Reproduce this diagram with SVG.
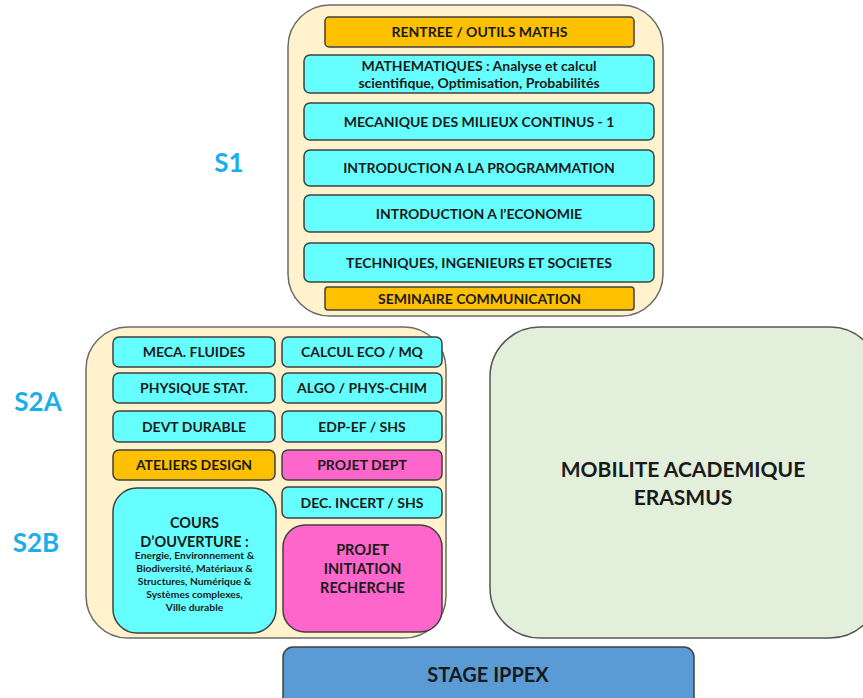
<svg xmlns="http://www.w3.org/2000/svg" width="863" height="698" viewBox="0 0 863 698">
<style>
text{font-family:Lato,"Liberation Sans",sans-serif;font-weight:bold;fill:#1a1a1a;text-anchor:middle}
.t{font-size:14px}
.cont{fill:#FFF2CC;stroke:#6b6b6b;stroke-width:1.5}
.cy{fill:#66FFFF;stroke:#404040;stroke-width:1.5}
.or{fill:#FFC000;stroke:#404040;stroke-width:1.5}
.pk{fill:#FF66CC;stroke:#404040;stroke-width:1.5}
.lbl{font-size:26px;fill:#1CAEEB}
.sm{font-size:10.3px}
</style>
<rect width="863" height="698" fill="#ffffff"/>
<g id="labels">
<text class="lbl" x="229" y="172">S1</text>
<text class="lbl" x="38" y="411">S2A</text>
<text class="lbl" x="36" y="552">S2B</text>
</g>
<g id="s1">
<rect class="cont" x="288" y="5" width="375" height="311" rx="42"/>
</g>
<g id="rentree"><rect class="or" x="325" y="17" width="309" height="30" rx="4"/><text class="t" x="479.5" y="37">RENTREE / OUTILS MATHS</text></g>
<g id="maths"><rect class="cy" x="304" y="55" width="350" height="38" rx="6"/><text class="t" x="479" y="71">MATHEMATIQUES : Analyse et calcul</text><text class="t" x="479" y="88">scientifique, Optimisation, Probabilités</text></g>
<g id="mmc"><rect class="cy" x="304" y="103" width="350" height="37" rx="6"/><text class="t" x="479" y="126.5">MECANIQUE DES MILIEUX CONTINUS - 1</text></g>
<g id="prog"><rect class="cy" x="304" y="150" width="350" height="36" rx="6"/><text class="t" x="479" y="173">INTRODUCTION A LA PROGRAMMATION</text></g>
<g id="eco"><rect class="cy" x="304" y="195" width="350" height="37" rx="6"/><text class="t" x="479" y="218.5">INTRODUCTION A l’ECONOMIE</text></g>
<g id="tis"><rect class="cy" x="304" y="243" width="350" height="39" rx="6"/><text class="t" x="479" y="267.5">TECHNIQUES, INGENIEURS ET SOCIETES</text></g>
<g id="semin"><rect class="or" x="325" y="287" width="309" height="23" rx="3"/><text class="t" x="479.5" y="303.5">SEMINAIRE COMMUNICATION</text></g>
<g id="s2">
<rect class="cont" x="86" y="327" width="360" height="311" rx="42"/>
</g>
<g id="mecaf"><rect class="cy" x="113" y="337" width="162" height="30" rx="6"/><text class="t" x="194" y="357">MECA. FLUIDES</text></g>
<g id="calc"><rect class="cy" x="282" y="337" width="160" height="30" rx="6"/><text class="t" x="362" y="357">CALCUL ECO / MQ</text></g>
<g id="phys"><rect class="cy" x="113" y="373" width="162" height="30" rx="6"/><text class="t" x="194" y="393">PHYSIQUE STAT.</text></g>
<g id="algo"><rect class="cy" x="282" y="373" width="160" height="30" rx="6"/><text class="t" x="362" y="393">ALGO / PHYS-CHIM</text></g>
<g id="devt"><rect class="cy" x="113" y="411" width="162" height="31" rx="6"/><text class="t" x="194" y="431.5">DEVT DURABLE</text></g>
<g id="edp"><rect class="cy" x="282" y="411" width="160" height="31" rx="6"/><text class="t" x="362" y="431.5">EDP-EF / SHS</text></g>
<g id="atel"><rect class="or" x="113" y="450" width="162" height="30" rx="6"/><text class="t" x="194" y="470">ATELIERS DESIGN</text></g>
<g id="pdept"><rect class="pk" x="282" y="450" width="160" height="30" rx="6"/><text class="t" x="362" y="470">PROJET DEPT</text></g>
<g id="cours"><rect class="cy" x="113" y="488" width="163" height="145" rx="24"/>
<text x="194.5" y="528" style="font-size:14.5px">COURS</text>
<text x="194.5" y="547" style="font-size:14.5px">D’OUVERTURE :</text>
<text class="sm" x="194.5" y="559">Energie, Environnement &amp;</text>
<text class="sm" x="194.5" y="572">Biodiversité, Matériaux &amp;</text>
<text class="sm" x="194.5" y="585">Structures, Numérique &amp;</text>
<text class="sm" x="194.5" y="598">Systèmes complexes,</text>
<text class="sm" x="194.5" y="611">Ville durable</text>
</g>
<g id="dec"><rect class="cy" x="282" y="487" width="160" height="31" rx="6"/><text class="t" x="362" y="507.5">DEC. INCERT / SHS</text></g>
<g id="pir"><rect class="pk" x="283" y="525" width="159" height="107" rx="22"/>
<text x="362.5" y="555" style="font-size:14.5px">PROJET</text>
<text x="362.5" y="574" style="font-size:14.5px">INITIATION</text>
<text x="362.5" y="593" style="font-size:14.5px">RECHERCHE</text>
</g>
<g id="mob"><rect x="490" y="327" width="390" height="311" rx="50" fill="#E2EFDA" stroke="#555555" stroke-width="1.5"/>
<text x="683" y="477" style="font-size:21px">MOBILITE ACADEMIQUE</text>
<text x="683" y="505" style="font-size:21px">ERASMUS</text>
</g>
<g id="stage"><rect x="283" y="647" width="411" height="70" rx="10" fill="#5B9BD5" stroke="#404040" stroke-width="1.5"/>
<text x="488" y="682" style="font-size:20px">STAGE IPPEX</text>
</g>
<g id="connectors"></g>
</svg>
